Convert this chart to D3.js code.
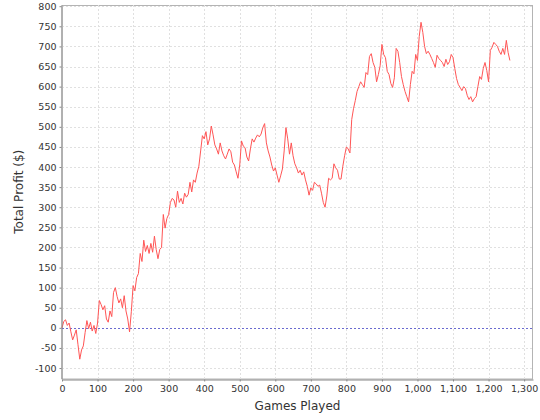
<!DOCTYPE html>
<html>
<head>
<meta charset="utf-8">
<script src="https://cdn.jsdelivr.net/npm/d3@7"></script>
<style>
  html, body { margin: 0; padding: 0; background: #fff; }
  svg { display: block; }
</style>
</head>
<body>
<script>
// Games played at each sample (every 5 games)
const gameStep = 5;
// Total profit ($), one value per 5 games
const profit = [
  0, 16, 20, 6, 12, -10, -30, -18, -5, -42,
  -78, -55, -45, -12, 18, -2, 14, -8, 6, -14,
  12, 68, 58, 45, 55, 22, 14, 42, 28, 88,
  100, 78, 62, 72, 50, 80, 42, 22, -10, 40,
  105, 92, 125, 135, 185, 165, 218, 190, 205, 185,
  210, 188, 228, 195, 172, 195, 200, 282, 248, 272,
  282, 312, 322, 318, 300, 340, 312, 322, 308, 335,
  325, 332, 362, 338, 368, 362, 385, 402, 440, 478,
  470, 488, 455, 470, 502, 480, 455, 445, 432, 460,
  440, 428, 420, 432, 445, 438, 412, 405, 388, 372,
  405, 465, 452, 448, 425, 415, 445, 470, 462, 472,
  480, 475, 482, 498, 508, 460, 440, 425, 405, 390,
  398, 380, 362, 378, 395, 440, 498, 470, 432, 460,
  428, 408, 398, 385, 392, 380, 388, 368, 352, 330,
  348, 342, 362, 358, 352, 355, 335, 312, 300, 328,
  372, 368, 372, 408, 398, 392, 370, 370, 402, 428,
  450, 445, 435, 518, 545, 565, 588, 600, 612, 605,
  598, 635, 630, 675, 682, 660, 648, 612, 630, 652,
  705, 680, 672, 638, 630, 608, 598, 622, 695, 688,
  660, 625, 605, 588, 575, 562, 605, 638, 632, 680,
  665, 725, 760, 735, 700, 682, 688, 680, 670, 660,
  648, 678, 670, 665, 660, 650, 668, 655, 662, 680,
  672, 645, 620, 605, 598, 590, 600, 595, 578, 568,
  575, 562, 570, 575, 600, 625, 618, 645, 660, 640,
  612, 690, 698, 710, 705, 700, 688, 680, 695, 680,
  715, 685, 665
];
const xTicks = d3.range(0, 1301, 100);
const yTicks = d3.range(-100, 801, 50);
const xLabel = "Games Played";
const yLabel = "Total Profit ($)";

const W = 540, H = 420;
const pLeft = 62, pRight = 533, pTop = 5, pBottom = 378.5;

const svg = d3.select("body").append("svg").attr("width", W).attr("height", H);

const x = d3.scaleLinear().domain([0, 1325]).range([pLeft, pRight]);
const y = d3.scaleLinear().domain([-126, 803]).range([pBottom, pTop]);

// plot background
svg.append("rect").attr("x", pLeft).attr("y", pTop + 0.5)
  .attr("width", pRight - pLeft - 0.5).attr("height", pBottom - pTop)
  .attr("fill", "#fff").attr("stroke", "#b4b4b4").attr("stroke-width", 1);

// gridlines
const grid = svg.append("g").attr("stroke", "#e0e0e0").attr("stroke-width", 1)
  .attr("stroke-dasharray", "2,2").attr("shape-rendering", "crispEdges");
grid.selectAll(".gx").data(xTicks.filter(d => d > 0)).join("line")
  .attr("x1", d => Math.round(x(d)) + 0.5).attr("x2", d => Math.round(x(d)) + 0.5)
  .attr("y1", pTop).attr("y2", pBottom);
grid.selectAll(".gy").data(yTicks).join("line")
  .attr("x1", pLeft).attr("x2", pRight)
  .attr("y1", d => Math.round(y(d)) + 0.5).attr("y2", d => Math.round(y(d)) + 0.5);

// zero marker
svg.append("line").attr("x1", pLeft).attr("x2", pRight)
  .attr("y1", Math.round(y(0)) + 0.5).attr("y2", Math.round(y(0)) + 0.5)
  .attr("stroke", "#6a6ad0").attr("stroke-width", 1)
  .attr("stroke-dasharray", "2,2").attr("shape-rendering", "crispEdges");

// line
const line = d3.line().x((d, i) => x(i * gameStep)).y(d => y(d));
svg.append("path").datum(profit).attr("d", line)
  .attr("fill", "none").attr("stroke", "#ff5555").attr("stroke-width", 1)
  .attr("stroke-linejoin", "round");

// axes
const fontFam = "'DejaVu Sans', sans-serif";
const xAxis = d3.axisBottom(x).tickValues(xTicks).tickFormat(d3.format(","))
  .tickSizeInner(2).tickSizeOuter(0).tickPadding(4);
const gx = svg.append("g").attr("transform", `translate(0,${Math.round(pBottom) + 0.5})`).call(xAxis);
gx.select(".domain").attr("stroke", "#888");
gx.selectAll(".tick line").attr("stroke", "#888");
gx.selectAll("text").attr("fill", "#333").style("font-family", fontFam).style("font-size", "9.5px");

const yAxis = d3.axisLeft(y).tickValues(yTicks).tickFormat(d3.format("d"))
  .tickSizeInner(2).tickSizeOuter(0).tickPadding(3);
const gy = svg.append("g").attr("transform", `translate(${pLeft - 0.5},0)`).call(yAxis);
gy.select(".domain").attr("stroke", "#888");
gy.selectAll(".tick line").attr("stroke", "#888");
gy.selectAll("text").attr("fill", "#333").style("font-family", fontFam).style("font-size", "9.5px")
  .text(d => d3.format("d")(d).replace("\u2212", "-"));

// axis labels
svg.append("text").attr("x", (pLeft + pRight) / 2).attr("y", 410)
  .attr("text-anchor", "middle").attr("fill", "#333")
  .style("font-family", fontFam).style("font-size", "12px").text(xLabel);
svg.append("text").attr("transform", `translate(23,${(pTop + pBottom) / 2}) rotate(-90)`)
  .attr("text-anchor", "middle").attr("fill", "#333")
  .style("font-family", fontFam).style("font-size", "12px").text(yLabel);
</script>
</body>
</html>
